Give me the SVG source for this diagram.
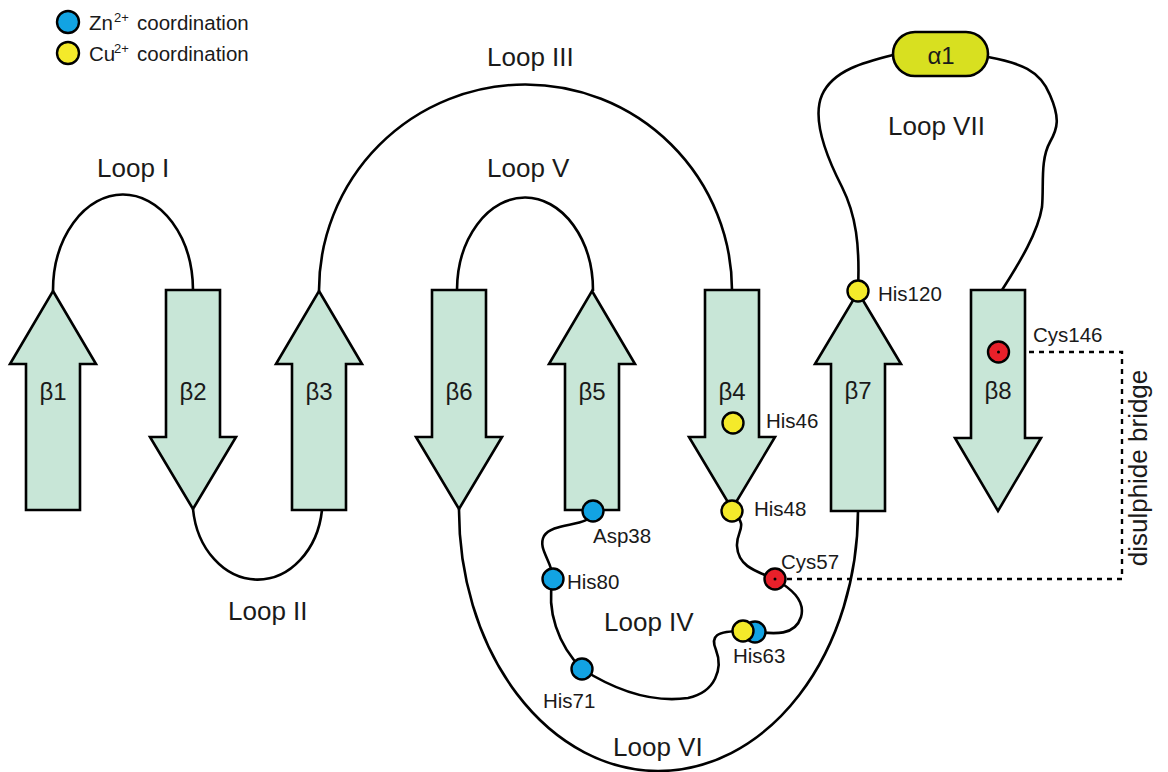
<svg xmlns="http://www.w3.org/2000/svg" width="1168" height="772" viewBox="0 0 1168 772">
<style>
text{font-family:"Liberation Sans",Arial,sans-serif;fill:#1a1a1a}
.strand{fill:#c8e6d7;stroke:#000;stroke-width:2.6;stroke-linejoin:miter}
.loop{fill:none;stroke:#000;stroke-width:2.6}
.lbl{font-size:26px}
.beta{font-size:24px;text-anchor:middle}
.res{font-size:20.5px}
.zn{fill:#12a3e3;stroke:#000;stroke-width:2.4}
.cu{fill:#f4ea2a;stroke:#000;stroke-width:2.4}
.cys{fill:#e8202a;stroke:#000;stroke-width:2.4}
.ss{fill:none;stroke:#000;stroke-width:2.4;stroke-dasharray:5 5}
</style>
<g id="connectors">
<path class="loop" d="M53,291 A70,96 0 0 1 193,290"/>
<path class="loop" d="M193,509 A65,80 0 0 0 322,510"/>
<path class="loop" d="M319,291 A206.5,206 0 0 1 732,290"/>
<path class="loop" d="M457,290 A68,93 0 0 1 593,291"/>
<path class="loop" d="M459,509 A199.5,261 0 0 0 858,511"/>
<path class="loop" d="M858,290 C860,245 856,215 842,187 C824,152 812,118 822,95 C833,70 865,62 893,55"/>
<path class="loop" d="M988,57 C1020,63 1040,70 1050,95 C1060,118 1058,128 1050,142 C1040,160 1044,185 1042,207 C1038,232 1020,262 1002,290"/>
<path class="loop" d="M593,511 C592,528 553,521 544,536 C537,549 553,562 553,579 C546,610 558,645 582,669 C615,690 652,703 688,698 C716,692 723,668 716,650 C710,636 716,631 743,631"/>
<path class="loop" d="M755,632 C775,634 795,636 801,617 C806,600 790,588 775,579 C755,571 738,566 737,546 C736,530 750,527 732,511"/>
<path class="ss" d="M1009,352 H1122 V579 H785"/>
</g>
<g id="loop-labels">
<text class="lbl" x="97" y="177">Loop I</text>
<text class="lbl" x="228" y="620">Loop II</text>
<text class="lbl" x="487" y="66">Loop III</text>
<text class="lbl" x="604" y="631">Loop IV</text>
<text class="lbl" x="487" y="177">Loop V</text>
<text class="lbl" x="613" y="756">Loop VI</text>
<text class="lbl" x="888" y="135">Loop VII</text>
<text class="lbl" transform="translate(1147,468) rotate(-90)" text-anchor="middle">disulphide bridge</text>
</g>
<g id="beta1"><polygon class="strand" points="53,291 96,364 80,364 80,510 26,510 26,364 10,364"/><text class="beta" x="53" y="400">β1</text></g>
<g id="beta2"><polygon class="strand" points="166,290 220,290 220,437 236,437 193,509 150,437 166,437"/><text class="beta" x="193" y="400">β2</text></g>
<g id="beta3"><polygon class="strand" points="319,291 362,364 346,364 346,510 292,510 292,364 276,364"/><text class="beta" x="319" y="400">β3</text></g>
<g id="beta6"><polygon class="strand" points="432,290 486,290 486,437 502,437 459,509 416,437 432,437"/><text class="beta" x="459" y="400">β6</text></g>
<g id="beta5"><polygon class="strand" points="592,291 635,364 619,364 619,510 565,510 565,364 549,364"/><text class="beta" x="592" y="400">β5</text></g>
<g id="beta4"><polygon class="strand" points="705,290 759,290 759,437 775,437 732,509 689,437 705,437"/><text class="beta" x="732" y="400">β4</text></g>
<g id="beta7"><polygon class="strand" points="858,292 901,364 885,364 885,511 831,511 831,364 815,364"/><text class="beta" x="858" y="399">β7</text></g>
<g id="beta8"><polygon class="strand" points="971,290 1025,290 1025,438 1041,438 998,511 955,438 971,438"/><text class="beta" x="998" y="399">β8</text></g>
<g id="alpha1"><rect x="893" y="32" width="95" height="44" rx="22" fill="#d8e020" stroke="#000" stroke-width="2.6"/><text x="941" y="64" font-size="24" text-anchor="middle">α1</text></g>
<g id="His120"><circle class="cu" cx="858" cy="291" r="10.5"/><text class="res" x="878" y="301">His120</text></g>
<g id="His46"><circle class="cu" cx="733" cy="423" r="10.5"/><text class="res" x="766" y="428">His46</text></g>
<g id="His48"><circle class="cu" cx="732" cy="511" r="10.5"/><text class="res" x="754" y="516">His48</text></g>
<g id="Asp38"><circle class="zn" cx="593" cy="511" r="10.5"/><text class="res" x="593" y="543">Asp38</text></g>
<g id="His80"><circle class="zn" cx="553" cy="579" r="10.5"/><text class="res" x="567" y="589">His80</text></g>
<g id="His71"><circle class="zn" cx="582" cy="669" r="10.5"/><text class="res" x="543" y="708">His71</text></g>
<g id="His63"><circle class="zn" cx="755" cy="632" r="10.5"/><circle class="cu" cx="743" cy="631" r="10.5"/><text class="res" x="733" y="663">His63</text></g>
<g id="Cys57"><circle class="cys" cx="775" cy="579" r="10.5"/><circle cx="775" cy="579" r="1.5" fill="#000"/><text class="res" x="781" y="569">Cys57</text></g>
<g id="Cys146"><circle class="cys" cx="998.5" cy="352" r="10.5"/><circle cx="998.5" cy="352" r="1.5" fill="#000"/><text class="res" x="1033" y="342">Cys146</text></g>
<g id="legend">
<circle class="zn" cx="68" cy="22" r="11"/>
<text x="89" y="29.5" font-size="20.5">Zn<tspan x="114" font-size="13" dy="-8">2+</tspan><tspan x="137" dy="8">coordination</tspan></text>
<circle class="cu" cx="68" cy="53" r="11"/>
<text x="89" y="61" font-size="20.5">Cu<tspan x="114" font-size="13" dy="-8">2+</tspan><tspan x="137" dy="8">coordination</tspan></text>
</g>
</svg>
